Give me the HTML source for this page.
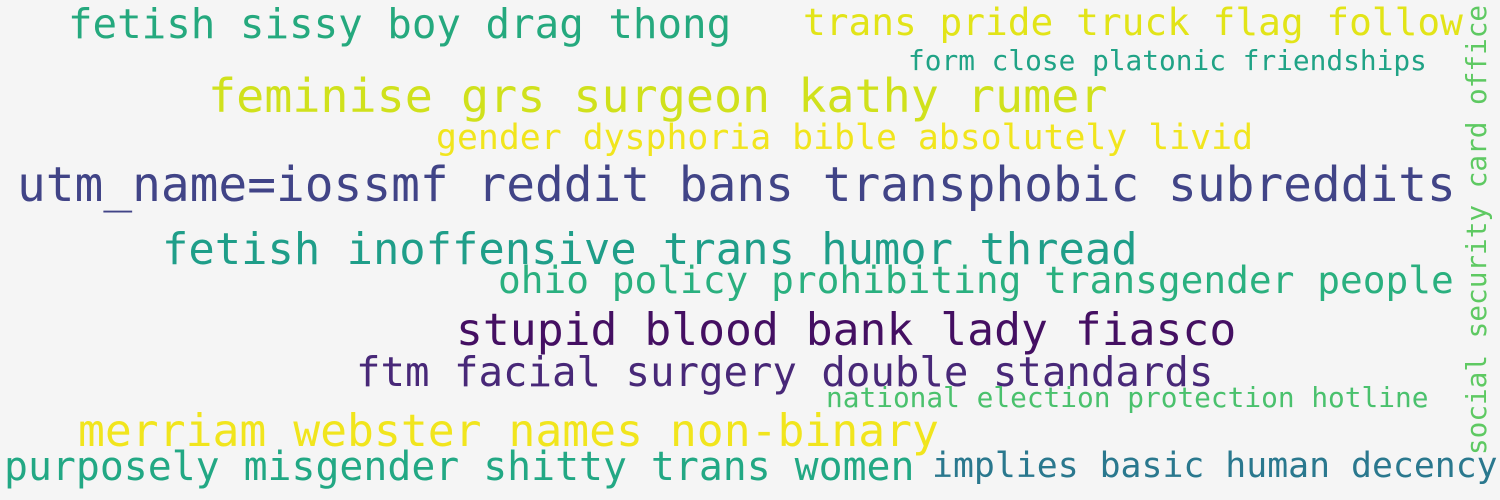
<!DOCTYPE html>
<html>
<head>
<meta charset="utf-8">
<style>
html,body{margin:0;padding:0;background:#f5f5f5;}
svg{display:block;}
text{font-family:"DejaVu Sans Mono","Liberation Mono",monospace;}
</style>
</head>
<body>
<svg width="1500" height="500" viewBox="0 0 1500 500">
<rect width="1500" height="500" fill="#f5f5f5"/>
<text x="68" y="38" font-size="40.8" fill="#25a97e">fetish sissy boy drag thong</text>
<text x="803" y="35" font-size="37.8" fill="#e2e418">trans pride truck flag follow</text>
<text x="908" y="70" font-size="27.8" fill="#20a386">form close platonic friendships</text>
<text x="208" y="112" font-size="46.7" fill="#d0e11c">feminise grs surgeon kathy rumer</text>
<text x="436" y="149" font-size="34.8" fill="#f1e51d">gender dysphoria bible absolutely livid</text>
<text x="17" y="201" font-size="47.8" fill="#414487">utm_name=iossmf reddit bans transphobic subreddits</text>
<text x="162" y="264" font-size="43.8" fill="#1f9e89">fetish inoffensive trans humor thread</text>
<text x="498" y="293" font-size="37.8" fill="#2ab07f">ohio policy prohibiting transgender people</text>
<text x="456" y="345" font-size="44.7" fill="#440f62">stupid blood bank lady fiasco</text>
<text x="356" y="386" font-size="40.7" fill="#482878">ftm facial surgery double standards</text>
<text x="826" y="407" font-size="27.8" fill="#4ac16d">national election protection hotline</text>
<text x="78" y="446" font-size="44.7" fill="#f1e51d">merriam webster names non-binary</text>
<text x="4" y="480" font-size="39.8" fill="#22a884">purposely misgender shitty trans women</text>
<text x="932" y="477" font-size="34.8" fill="#2a788e">implies basic human decency</text>
<text x="0" y="0" font-size="27.7" fill="#5ec962" transform="translate(1486,455) rotate(-90)">social security card office</text>
</svg>
</body>
</html>
